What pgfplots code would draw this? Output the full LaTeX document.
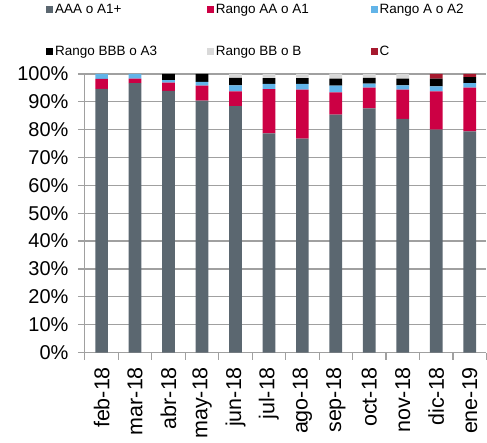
\documentclass[border=0pt]{standalone}
\usepackage{pgfplots}
\pgfplotsset{compat=1.18}
\usepackage{pgfplotstable}
\usepackage{fontspec}
\setmainfont{Liberation Sans}
\definecolor{cAAA}{HTML}{5B6770}
\definecolor{cAA}{HTML}{CC0044}
\definecolor{cA}{HTML}{62B4E8}
\definecolor{cBBB}{HTML}{000000}
\definecolor{cBB}{HTML}{D9D9D9}
\definecolor{cC}{HTML}{A6192E}
\definecolor{gridc}{HTML}{A0A0A0}
\pgfplotstableread{
x AAA AA A BBB BB C
0 94.6 3.6 1.8 0 0 0
1 96.7 1.6 1.7 0 0 0
2 93.9 3.0 0.9 2.2 0 0
3 90.4 5.4 1.3 2.9 0 0
4 88.4 5.3 2.2 2.7 1.4 0
5 78.7 15.8 1.9 2.1 1.5 0
6 76.8 17.6 2.0 2.1 1.5 0
7 85.4 8.0 2.4 2.5 1.8 0
8 87.6 7.5 1.4 2.1 1.4 0
9 83.9 10.5 1.5 2.4 1.7 0
10 80.0 13.7 1.8 2.8 0 1.7
11 79.4 15.7 1.6 2.1 0 1.2
}\data
\newcommand{\lba}[1]{\makebox[149pt][l]{#1}}
\newcommand{\lbb}[1]{\makebox[152pt][l]{#1}}
\begin{document}
\begin{tikzpicture}
\begin{axis}[
  scale only axis,
  width=402pt, height=279pt,
  ybar stacked,
  bar width=0.38,
  xmin=-0.5, xmax=11.5,
  ymin=0, ymax=100,
  xtick={0,...,11},
  xticklabels={feb-18,mar-18,abr-18,may-18,jun-18,jul-18,ago-18,sep-18,oct-18,nov-18,dic-18,ene-19},
  minor xtick={-0.5,0.5,...,11.5},
  ytick={0,10,...,100},
  yticklabel={\pgfmathprintnumber{\tick}\%},
  /pgf/number format/assume math mode=true,
  xticklabel style={font=\fontsize{21.5}{23}\selectfont, rotate=90, anchor=east, xshift=-4pt},
  yticklabel style={font=\fontsize{20}{22}\selectfont, xshift=-6pt},
  axis x line*=bottom, axis y line*=left,
  axis line style={gridc, line width=1.2pt},
  tick align=outside,
  major tick length=7pt, minor tick length=7pt,
  xtick style={draw=none},
  minor x tick style={draw=gridc, line width=1.2pt},
  ytick style={draw=gridc, line width=1.2pt},
  ymajorgrids,
  grid style={gridc, line width=1.2pt},
  legend columns=3,
  legend cell align=left,
  legend image code/.code={\fill[#1] (0pt,-3.5pt) rectangle (7pt,3.5pt);},
  legend style={at={(-0.097,1.258)}, anchor=north west, draw=none, inner sep=0pt,
    font=\fontsize{13.5}{15}\selectfont, row sep=27pt,
    /tikz/every even column/.append style={column sep=1pt}},
  clip=false,
]
\addplot[fill=cAAA, draw=none] table[x=x,y=AAA]{\data};
\addlegendentry{\lba{AAA o A1+}}
\addplot[fill=cAA, draw=none] table[x=x,y=AA]{\data};
\addlegendentry{\lbb{Rango AA o A1}}
\addplot[fill=cA, draw=none] table[x=x,y=A]{\data};
\addlegendentry{Rango A o A2}
\addplot[fill=cBBB, draw=none] table[x=x,y=BBB]{\data};
\addlegendentry{\lba{Rango BBB o A3}}
\addplot[fill=cBB, draw=none] table[x=x,y=BB]{\data};
\addlegendentry{\lbb{Rango BB o B}}
\addplot[fill=cC, draw=none] table[x=x,y=C]{\data};
\addlegendentry{C}
\end{axis}
\path (current axis.south west) ++(-85pt,-82pt) coordinate (bl);
\path (current axis.north east) ++(0pt,74pt) coordinate (tr);
\path (bl) rectangle (tr);
\end{tikzpicture}
\end{document}
